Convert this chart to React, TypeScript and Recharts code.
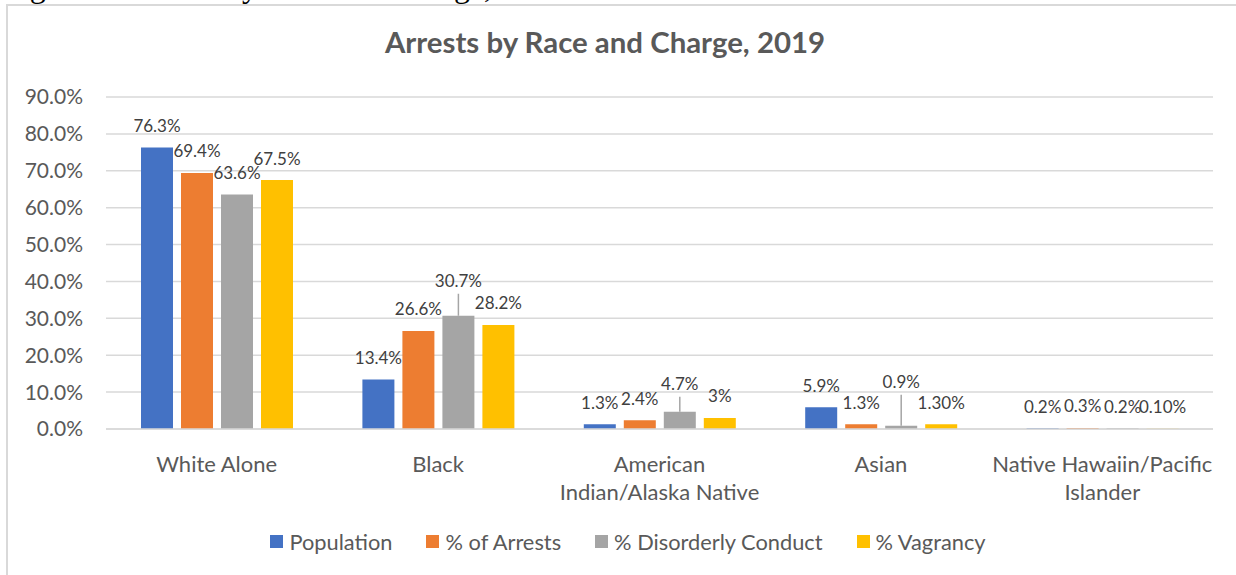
import React from 'react';
import { BarChart, Bar, XAxis, YAxis, CartesianGrid, Legend, LabelList } from 'recharts';

const races = [
  'White Alone',
  'Black',
  'American\nIndian/Alaska Native',
  'Asian',
  'Native Hawaiin/Pacific\nIslander',
];

const population = [76.3, 13.4, 1.3, 5.9, 0.2];
const arrests = [69.4, 26.6, 2.4, 1.3, 0.3];
const disorderly = [63.6, 30.7, 4.7, 0.9, 0.2];
const vagrancy = [67.5, 28.2, 3.0, 1.3, 0.1];

const populationLabels = ['76.3%', '13.4%', '1.3%', '5.9%', '0.2%'];
const arrestsLabels = ['69.4%', '26.6%', '2.4%', '1.3%', '0.3%'];
const disorderlyLabels = ['63.6%', '30.7%', '4.7%', '0.9%', '0.2%'];
const vagrancyLabels = ['67.5%', '28.2%', '3%', '1.30%', '0.10%'];

const yTicks = [0, 10, 20, 30, 40, 50, 60, 70, 80, 90];

// labels that Excel moved up with a leader line (lift in px, 0 = default)
const disorderlyLeaders = [0, 35, 28, 44, 0];

const data = races.map((race, i) => ({
  race,
  population: population[i],
  arrests: arrests[i],
  disorderly: disorderly[i],
  vagrancy: vagrancy[i],
}));

const series = [
  { key: 'population', name: 'Population', color: '#4472c4', labels: populationLabels },
  { key: 'arrests', name: '% of Arrests', color: '#ed7d31', labels: arrestsLabels },
  { key: 'disorderly', name: '% Disorderly Conduct', color: '#a5a5a5', labels: disorderlyLabels, leaders: disorderlyLeaders },
  { key: 'vagrancy', name: '% Vagrancy', color: '#ffc000', labels: vagrancyLabels },
];

const FONT = 'Lato, "Noto Sans", sans-serif';

const makeLabel = (labels: string[], leaders?: number[]) => (props: any) => {
  const { x, y, width, index } = props;
  const cx = Number(x) + Number(width) / 2;
  const lift = leaders && leaders[index] ? leaders[index] : 22;
  const ty = Number(y) - lift;
  return (
    <g>
      {leaders && leaders[index] ? (
        <line x1={cx} x2={cx} y1={ty + 13} y2={Number(y)} stroke="#a5a5a5" strokeWidth={1.5} />
      ) : null}
      <text x={cx} y={ty} textAnchor="middle" dominantBaseline="central" fill="#404040" fontSize={17} fontFamily={FONT}>
        {labels[index]}
      </text>
    </g>
  );
};

const CategoryTick = (props: any) => {
  const { x, y, payload } = props;
  const lines = String(payload.value).split('\n');
  return (
    <text x={x} y={y + 32} textAnchor="middle" dominantBaseline="central" fill="#595959" fontSize={22} fontFamily={FONT}>
      {lines.map((line, i) => (
        <tspan key={i} x={x} dy={i === 0 ? 0 : 28}>
          {line}
        </tspan>
      ))}
    </text>
  );
};

const LegendRow = () => (
  <div style={{ display: 'flex', justifyContent: 'center', alignItems: 'center', gap: 34, fontFamily: FONT, fontSize: 21.8, color: '#595959' }}>
    {series.map((s) => (
      <div key={s.key} style={{ display: 'flex', alignItems: 'center', gap: 6 }}>
        <span style={{ display: 'inline-block', width: 13, height: 13, background: s.color }} />
        <span>{s.name}</span>
      </div>
    ))}
  </div>
);

export default function App() {
  return (
    <div style={{ position: 'absolute', top: 0, left: 0, width: 1236, height: 575, overflow: 'hidden', background: '#fff' }}>
      <div style={{ position: 'absolute', top: -32, left: 3, fontFamily: '"Liberation Serif", serif', fontSize: 32, color: '#000', whiteSpace: 'nowrap' }}>
        Figure 6: Arrests by Race and Charge, 2019
      </div>
      <div style={{ position: 'absolute', top: 4, left: 6, width: 1260, height: 600, borderTop: '2px solid #d9d9d9', borderLeft: '2px solid #d9d9d9' }} />
      <div style={{ position: 'absolute', top: 24, left: 0, width: 1210, textAlign: 'center', fontFamily: FONT, fontWeight: 700, fontSize: 29.4, color: '#595959' }}>
        Arrests by Race and Charge, 2019
      </div>
      <div style={{ position: 'absolute', top: 0, left: 0 }}>
        <BarChart width={1236} height={575} data={data} margin={{ top: 97, right: 23, left: 0, bottom: 0 }} barSize={32} barGap={8}>
          <CartesianGrid vertical={false} stroke="#d9d9d9" strokeWidth={1.5} />
          <XAxis dataKey="race" height={146} axisLine={{ stroke: '#d9d9d9', strokeWidth: 1.5 }} tickLine={false} tickSize={0} tick={<CategoryTick />} interval={0} />
          <YAxis
            width={106}
            domain={[0, 90]}
            ticks={yTicks}
            axisLine={false}
            tickLine={false}
            tickSize={0}
            tickMargin={23}
            tickFormatter={(v: number) => `${v.toFixed(1)}%`}
            tick={{ fill: '#595959', fontSize: 21, fontFamily: FONT }}
          />
          <Legend layout="horizontal" verticalAlign="middle" align="center" wrapperStyle={{ top: 528, left: 0, width: 1256 }} content={<LegendRow />} />
          {series.map((s) => (
            <Bar key={s.key} dataKey={s.key} name={s.name} fill={s.color} isAnimationActive={false}>
              <LabelList dataKey={s.key} content={makeLabel(s.labels, s.leaders)} />
            </Bar>
          ))}
        </BarChart>
      </div>
    </div>
  );
}
